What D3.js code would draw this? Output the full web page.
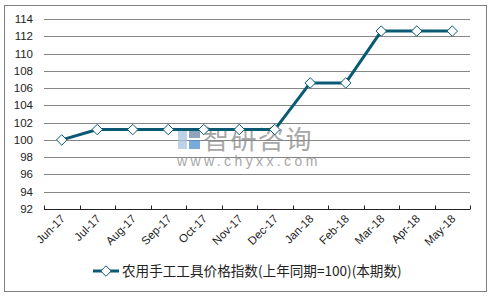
<!DOCTYPE html>
<html>
<head>
<meta charset="utf-8">
<script src="https://cdn.jsdelivr.net/npm/d3@7"></script>
<style>
  body { margin: 0; background: #fff; }
  svg { display: block; font-family: "Liberation Sans", Arial, sans-serif; }
</style>
</head>
<body>
<div id="chart"></div>
<script>
// chart data
const months = ['Jun-17', 'Jul-17', 'Aug-17', 'Sep-17', 'Oct-17', 'Nov-17',
                'Dec-17', 'Jan-18', 'Feb-18', 'Mar-18', 'Apr-18', 'May-18'];
const indexValues = [100, 101.2, 101.2, 101.2, 101.2, 101.2,
                     101.2, 106.6, 106.6, 112.6, 112.6, 112.6];
const yTicks = [92, 94, 96, 98, 100, 102, 104, 106, 108, 110, 112, 114];
const seriesName = '农用手工工具价格指数(上年同期=100)(本期数)';

const W = 491, H = 297;
const margin = { left: 44, right: 21, top: 19, bottom: 90 };
const lineColor = '#0a5a74';

const svg = d3.select('#chart').append('svg')
    .attr('width', W)
    .attr('height', H);

// outer frame
svg.append('rect')
    .attr('x', 4.5).attr('y', 5.5)
    .attr('width', 482).attr('height', 286)
    .attr('fill', '#fff')
    .attr('stroke', '#7f7f7f');

const x = d3.scaleBand()
    .domain(months)
    .range([margin.left, W - margin.right]);

const y = d3.scaleLinear()
    .domain([92, 114])
    .range([H - margin.bottom + 2, margin.top]);

// gridlines
svg.append('g')
    .selectAll('line')
    .data(yTicks.filter(d => d !== 92))
    .enter()
    .append('line')
    .attr('x1', margin.left)
    .attr('x2', W - margin.right)
    .attr('y1', d => Math.round(y(d)) + 0.5)
    .attr('y2', d => Math.round(y(d)) + 0.5)
    .attr('stroke', '#868686')
    .attr('stroke-width', 1);

// y axis labels
svg.append('g')
    .selectAll('text')
    .data(yTicks)
    .enter()
    .append('text')
    .attr('x', 33)
    .attr('y', d => y(d) + 4)
    .attr('text-anchor', 'end')
    .attr('font-size', 11.5)
    .attr('fill', '#222')
    .text(d => d);

// x axis
const xAxis = svg.append('g')
    .attr('transform', `translate(0, ${Math.round(y(92)) + 0.5})`);

xAxis.append('line')
    .attr('x1', margin.left)
    .attr('x2', W - margin.right)
    .attr('stroke', '#222');

const boundaries = months.map(m => x(m)).concat([W - margin.right]);
xAxis.selectAll('.tick')
    .data(boundaries)
    .enter()
    .append('line')
    .attr('class', 'tick')
    .attr('x1', d => Math.round(d) + 0.5)
    .attr('x2', d => Math.round(d) + 0.5)
    .attr('y1', -4)
    .attr('y2', 0)
    .attr('stroke', '#222');

xAxis.selectAll('.xlabel')
    .data(months)
    .enter()
    .append('text')
    .attr('class', 'xlabel')
    .attr('text-anchor', 'end')
    .attr('font-size', 11.5)
    .attr('fill', '#222')
    .attr('transform', d => `translate(${x(d) + x.bandwidth() / 2 + 4}, 10) rotate(-45)`)
    .text(d => d);

// watermark
const wm = svg.append('g').attr('opacity', 0.75);
wm.append('rect').attr('x', 178).attr('y', 129).attr('width', 9).attr('height', 20).attr('fill', '#a9c4e0');
wm.append('rect').attr('x', 189).attr('y', 129).attr('width', 11).attr('height', 9).attr('fill', '#6d86a8');
wm.append('rect').attr('x', 189).attr('y', 140).attr('width', 11).attr('height', 9).attr('fill', '#4a90d0');
wm.append('text')
    .attr('x', 203).attr('y', 149)
    .attr('font-size', 26)
    .attr('letter-spacing', 1.5)
    .attr('font-family', '"Noto Sans CJK SC", sans-serif')
    .attr('fill', '#8a8a8a')
    .text('智研咨询');
wm.append('text')
    .attr('x', 177).attr('y', 166)
    .attr('font-size', 14)
    .attr('letter-spacing', 3.4)
    .attr('fill', '#8a8a8a')
    .text('www.chyxx.com');

// series line
const cx = d => x(d) + x.bandwidth() / 2;
const line = d3.line()
    .x((d, i) => cx(months[i]))
    .y(d => y(d));

svg.append('path')
    .datum(indexValues)
    .attr('d', line)
    .attr('fill', 'none')
    .attr('stroke', lineColor)
    .attr('stroke-width', 3)
    .attr('stroke-linejoin', 'round');

const diamond = d3.symbol().type(d3.symbolDiamond2).size(70);
svg.append('g')
    .selectAll('path')
    .data(indexValues)
    .enter()
    .append('path')
    .attr('d', diamond)
    .attr('transform', (d, i) => `translate(${cx(months[i])}, ${y(d)})`)
    .attr('fill', '#fff')
    .attr('stroke', lineColor)
    .attr('stroke-width', 1);

// legend
const legend = svg.append('g').attr('transform', 'translate(93, 271)');
legend.append('line')
    .attr('x1', 0).attr('x2', 26)
    .attr('stroke', lineColor)
    .attr('stroke-width', 3);
legend.append('path')
    .attr('d', diamond)
    .attr('transform', 'translate(13, 0)')
    .attr('fill', '#fff')
    .attr('stroke', lineColor);
legend.append('text')
    .attr('x', 29)
    .attr('y', 5)
    .attr('font-size', 13.6)
    .attr('font-family', '"Noto Sans CJK SC", "Liberation Sans", sans-serif')
    .attr('fill', '#222')
    .text(seriesName);
</script>
</body>
</html>
